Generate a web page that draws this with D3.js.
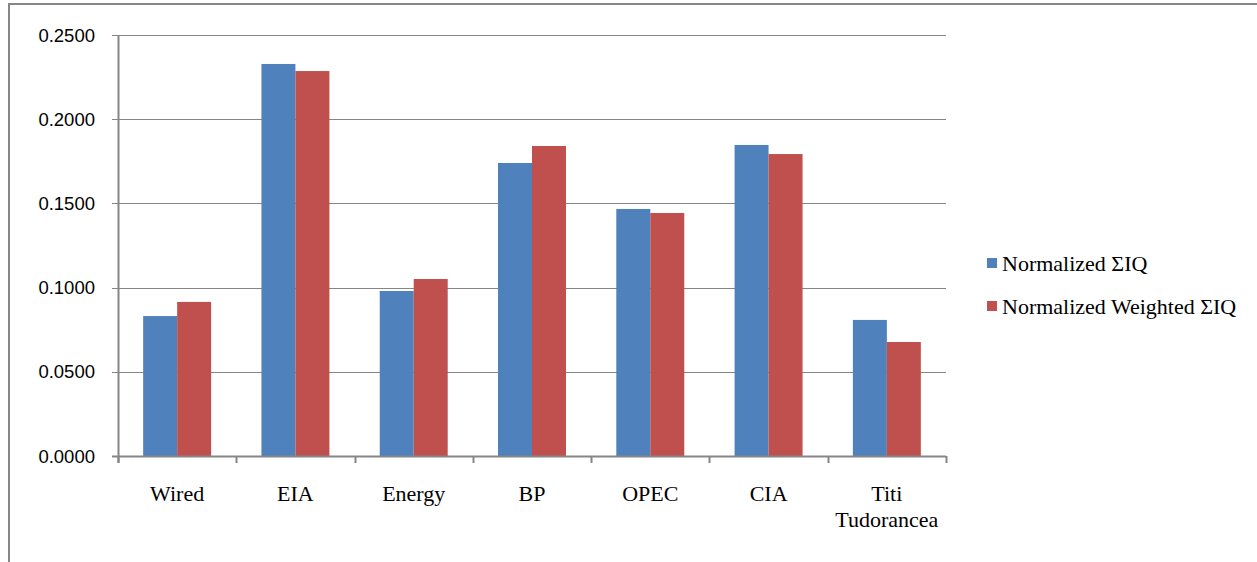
<!DOCTYPE html>
<html><head><meta charset="utf-8">
<script src="https://cdn.jsdelivr.net/npm/d3@7"></script>
<style>body{margin:0;background:#fff;}svg{display:block;}</style>
</head><body>
<svg id="c" width="1257" height="562"></svg>
<script>
const categories = ["Wired", "EIA", "Energy", "BP", "OPEC", "CIA", "Titi Tudorancea"];
const seriesNames = ["Normalized \u03A3IQ", "Normalized Weighted \u03A3IQ"];
const normalized = [0.0831, 0.2328, 0.0980, 0.1740, 0.1467, 0.1847, 0.0808];
const weighted = [0.0915, 0.2286, 0.1051, 0.1841, 0.1443, 0.1793, 0.0677];
const yTicks = [0, 0.05, 0.10, 0.15, 0.20, 0.25];
const colors = ["#4F81BD", "#C0504D"];

const svg = d3.select("#c");
const gray = "#868686";
const serif = "'Liberation Serif', 'Times New Roman', serif";
const sans = "'Liberation Sans', Arial, sans-serif";

// outer frame
svg.append("rect").attr("x", 9).attr("y", 4).attr("width", 1300).attr("height", 600)
  .attr("fill", "none").attr("stroke", gray).attr("stroke-width", 2);

const L = 118, R = 946, T = 35, B = 456;
const x = d3.scaleBand().domain(categories).range([L, R]).paddingInner(0).paddingOuter(0);
const y = d3.scaleLinear().domain([0, 0.25]).range([B, T]);
const xs = d3.scaleBand().domain([0, 1]).range([0, x.bandwidth()]).paddingInner(0).paddingOuter(0.74);

// gridlines
svg.append("g").selectAll("line").data(yTicks).join("line")
  .attr("x1", L - 6).attr("x2", R).attr("y1", d => Math.round(y(d)) + 0.5).attr("y2", d => Math.round(y(d)) + 0.5)
  .attr("stroke", gray).attr("stroke-width", 1);

// y labels
svg.append("g").selectAll("text").data(yTicks).join("text")
  .attr("x", 95).attr("y", d => y(d)).attr("dy", "0.36em").attr("text-anchor", "end")
  .attr("font-family", sans).attr("font-size", 18.5).attr("fill", "#000")
  .text(d => d3.format(".4f")(d));

// bars
const series = [normalized, weighted];
const g = svg.append("g");
series.forEach((vals, si) => {
  g.selectAll(null).data(vals).join("rect")
    .attr("x", (d, i) => x(categories[i]) + xs(si))
    .attr("width", xs.bandwidth())
    .attr("y", d => y(d))
    .attr("height", d => B - y(d))
    .attr("fill", colors[si]);
});

// y axis line
svg.append("line").attr("x1", L + 0.5).attr("x2", L + 0.5).attr("y1", T).attr("y2", B + 7)
  .attr("stroke", gray).attr("stroke-width", 2);
// x axis line
svg.append("line").attr("x1", L - 6).attr("x2", R).attr("y1", B + 0.5).attr("y2", B + 0.5)
  .attr("stroke", gray).attr("stroke-width", 2);
// category ticks
const bounds = categories.map(c => x(c)).concat([R]);
svg.append("g").selectAll("line").data(bounds).join("line")
  .attr("x1", d => Math.round(d) + 0.5).attr("x2", d => Math.round(d) + 0.5)
  .attr("y1", B).attr("y2", B + 7).attr("stroke", gray).attr("stroke-width", 2);

// category labels
const lab = svg.append("g").selectAll("text").data(categories).join("text")
  .attr("x", d => x(d) + x.bandwidth() / 2).attr("y", 501).attr("text-anchor", "middle")
  .attr("font-family", serif).attr("font-size", 22).attr("fill", "#000");
lab.each(function(d) {
  const parts = d === "Titi Tudorancea" ? ["Titi", "Tudorancea"] : [d];
  const t = d3.select(this);
  parts.forEach((p, k) => t.append("tspan").attr("x", x(d) + x.bandwidth() / 2).attr("dy", k ? 26 : 0).text(p));
});

// legend
const lg = svg.append("g");
seriesNames.forEach((n, i) => {
  const yy = 263 + i * 43;
  lg.append("rect").attr("x", 987).attr("y", yy - 5).attr("width", 10).attr("height", 10).attr("fill", colors[i]);
  lg.append("text").attr("x", 1002).attr("y", yy).attr("dy", "0.35em")
    .attr("font-family", serif).attr("font-size", 22).attr("fill", "#000").text(n);
});
</script>
</body></html>
